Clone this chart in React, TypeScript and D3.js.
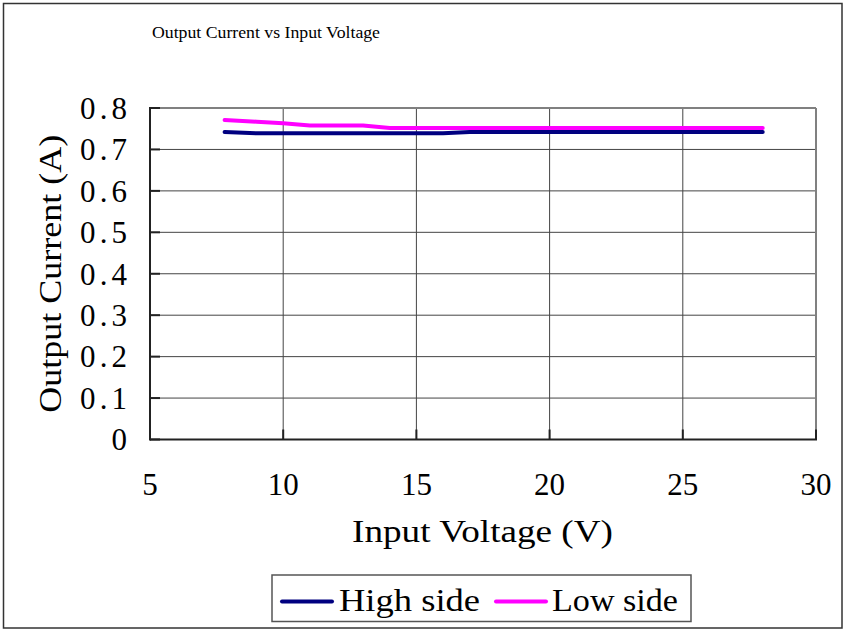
import * as d3 from "d3";

const voltage = [7.8, 9, 10, 11, 12, 13, 14, 15, 16, 17, 18, 19, 20, 21, 22, 23, 24, 25, 26, 27, 28];
const highSide = [0.742, 0.739, 0.739, 0.739, 0.739, 0.739, 0.739, 0.739, 0.739, 0.742, 0.742, 0.742, 0.742, 0.742, 0.742, 0.742, 0.742, 0.742, 0.742, 0.742, 0.742];
const lowSide = [0.771, 0.767, 0.763, 0.758, 0.758, 0.758, 0.752, 0.752, 0.752, 0.752, 0.752, 0.752, 0.752, 0.752, 0.752, 0.752, 0.752, 0.752, 0.752, 0.752, 0.752];
const xTicks = [5, 10, 15, 20, 25, 30];
const yTicks = [0, 0.1, 0.2, 0.3, 0.4, 0.5, 0.6, 0.7, 0.8];
const seriesNames = ["High side", "Low side"];
const seriesColors = ["#000080", "#ff00ff"];

const W = 845;
const H = 630;
const plot = { x1: 150, y1: 108, x2: 816, y2: 439.5 };
const font = "'Liberation Serif', 'DejaVu Serif', serif";

export default function App() {
  const x = d3.scaleLinear().domain([5, 30]).range([plot.x1, plot.x2]);
  const y = d3.scaleLinear().domain([0, 0.8]).range([plot.y2, plot.y1]);

  const line = d3
    .line<number>()
    .x((_, i) => x(voltage[i]))
    .y((d) => y(d));

  const series = [highSide, lowSide];

  // y labels like "0. 8" are wide in the original font
  const yLabel = (v: number) => (v === 0 ? "0" : d3.format(".1f")(v));

  return (
    <svg width={W} height={H} style={{ position: "absolute", left: 0, top: 0, background: "#fff" }}>
      <rect x={3.5} y={3.5} width={838.5} height={624.5} fill="#fff" stroke="#333" strokeWidth={1.5} />

      <text x={266} y={38} fontFamily={font} fontSize={17} textAnchor="middle" textLength={228} lengthAdjust="spacingAndGlyphs" fill="#000">
        Output Current vs Input Voltage
      </text>

      {/* grid */}
      {xTicks.slice(1, -1).map((t) => (
        <line key={"gx" + t} x1={x(t)} x2={x(t)} y1={plot.y1} y2={plot.y2} stroke="#444" strokeWidth={1} />
      ))}
      {yTicks.slice(1, -1).map((t) => (
        <line key={"gy" + t} x1={plot.x1} x2={plot.x2} y1={y(t)} y2={y(t)} stroke="#444" strokeWidth={1} />
      ))}

      {/* top and right border */}
      <line x1={plot.x1} x2={plot.x2} y1={plot.y1} y2={plot.y1} stroke="#808080" strokeWidth={2} />
      <line x1={plot.x2} x2={plot.x2} y1={plot.y1} y2={plot.y2} stroke="#808080" strokeWidth={2} />

      {/* axes */}
      <line x1={plot.x1} x2={plot.x2 + 1} y1={plot.y2} y2={plot.y2} stroke="#222" strokeWidth={2} />
      <line x1={plot.x1} x2={plot.x1} y1={plot.y1 - 1} y2={plot.y2 + 1} stroke="#222" strokeWidth={2} />
      {yTicks.map((t) => (
        <line key={"ty" + t} x1={plot.x1} x2={plot.x1 + 10} y1={y(t)} y2={y(t)} stroke="#222" strokeWidth={2} />
      ))}
      {xTicks.map((t) => (
        <line key={"tx" + t} x1={x(t)} x2={x(t)} y1={plot.y2} y2={plot.y2 - 10} stroke="#222" strokeWidth={2} />
      ))}

      {/* series */}
      {series.map((s, i) => (
        <path key={"s" + i} d={line(s) ?? ""} fill="none" stroke={seriesColors[i]} strokeWidth={4} strokeLinejoin="round" strokeLinecap="round" />
      ))}

      {/* tick labels */}
      {yTicks.map((t) => (
        <text
          key={"ly" + t}
          x={127}
          y={y(t)}
          dy="0.35em"
          fontFamily={font}
          fontSize={31}
          textAnchor="end"
          textLength={t === 0 ? undefined : 47}
          lengthAdjust="spacing"
        >
          {yLabel(t)}
        </text>
      ))}
      {xTicks.map((t) => (
        <text key={"lx" + t} x={x(t)} y={495} fontFamily={font} fontSize={31} textAnchor="middle">
          {t}
        </text>
      ))}

      {/* axis titles */}
      <text x={482.5} y={542} fontFamily={font} fontSize={32} textAnchor="middle" textLength={261} lengthAdjust="spacingAndGlyphs">
        Input Voltage (V)
      </text>
      <text
        transform={`translate(61,${(plot.y1 + plot.y2) / 2}) rotate(-90)`}
        fontFamily={font}
        fontSize={32}
        textAnchor="middle"
        textLength={278}
        lengthAdjust="spacingAndGlyphs"
      >
        Output Current (A)
      </text>

      {/* legend */}
      <rect x={272} y={575} width={419} height={46.5} fill="#fff" stroke="#555" strokeWidth={1.5} />
      <line x1={282} x2={332} y1={601.5} y2={601.5} stroke={seriesColors[0]} strokeWidth={4} strokeLinecap="round" />
      <text x={339} y={611} fontFamily={font} fontSize={32} textLength={141} lengthAdjust="spacingAndGlyphs">
        {seriesNames[0]}
      </text>
      <line x1={496} x2={546} y1={601.5} y2={601.5} stroke={seriesColors[1]} strokeWidth={4} strokeLinecap="round" />
      <text x={552} y={611} fontFamily={font} fontSize={32} textLength={126} lengthAdjust="spacingAndGlyphs">
        {seriesNames[1]}
      </text>
    </svg>
  );
}
